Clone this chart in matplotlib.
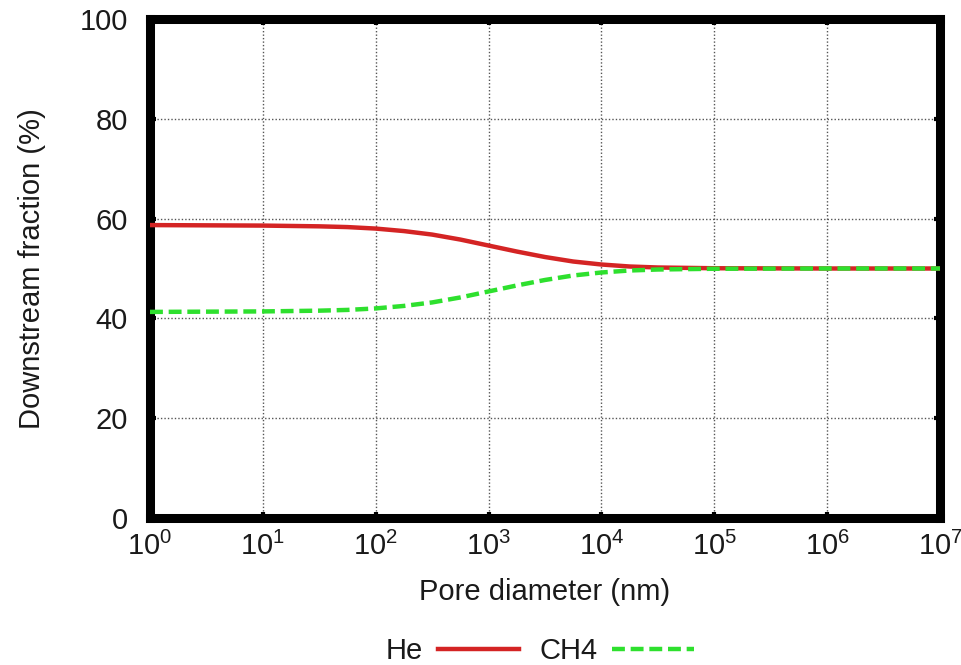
import matplotlib
matplotlib.use("Agg")
import matplotlib.pyplot as plt
import numpy as np

plt.rcParams['font.family'] = ['Liberation Sans', 'DejaVu Sans']
plt.rcParams['mathtext.fontset'] = 'custom'
plt.rcParams['mathtext.rm'] = 'Liberation Sans'
plt.rcParams['mathtext.it'] = 'Liberation Sans'

log_diam = [0, 1, 1.5, 1.75, 2, 2.25, 2.5, 2.75, 3, 3.25, 3.5, 3.75, 4, 4.25, 4.5, 5, 6, 7]
he_frac = [58.7, 58.6, 58.45, 58.3, 58.0, 57.5, 56.8, 55.8, 54.6, 53.4, 52.3, 51.4, 50.8, 50.4, 50.2, 50.05, 50.0, 50.0]
ch4_frac = [41.3, 41.4, 41.55, 41.7, 42.0, 42.5, 43.2, 44.2, 45.4, 46.6, 47.7, 48.6, 49.2, 49.6, 49.8, 49.95, 50.0, 50.0]
x_tick_exps = [0, 1, 2, 3, 4, 5, 6, 7]
y_ticks = [0, 20, 40, 60, 80, 100]

diam = [10.0 ** v for v in log_diam]

fig = plt.figure(figsize=(9.62, 6.65), dpi=100)
ax = fig.add_axes([150/962, 1-518/665, (940-150)/962, (518-19)/665])

tc = '#1a1a1a'
l1, = ax.plot(diam, he_frac, color='#d42424', lw=3.2, label='He', zorder=3)
l2, = ax.plot(diam, ch4_frac, color='#2ee02e', lw=3.2, dashes=(2.9, 1.3), label='CH4', zorder=4)

ax.set_xscale('log')
ax.set_xlim(1, 1e7)
ax.set_ylim(0, 100)
ax.set_xticks([10.0 ** e for e in x_tick_exps])
ax.set_xticklabels([r'$10^{%d}$' % e for e in x_tick_exps])
ax.xaxis.set_minor_locator(matplotlib.ticker.NullLocator())
ax.set_yticks(y_ticks)
ax.set_yticklabels([str(v) for v in y_ticks])

ax.grid(True, which='major', linestyle=(0, (1, 1.5)), color='#555555', linewidth=1.0)
for s in ax.spines.values():
    s.set_linewidth(6.5)
    s.set_color('black')
ax.tick_params(axis='both', which='major', direction='in', length=4, width=3,
               top=True, right=True, labelsize=21, colors='black', labelcolor=tc)
ax.tick_params(axis='y', pad=16)
ax.tick_params(axis='x', pad=10)

ax.set_xlabel('Pore diameter (nm)', fontsize=21, color=tc, labelpad=12)
ax.set_ylabel('Downstream fraction (%)', fontsize=21, color=tc, labelpad=24)

fig.legend(handles=[l1, l2], loc='center', bbox_to_anchor=(540/962, 1-651/665), ncol=2,
           frameon=False, markerfirst=False, fontsize=21, handlelength=2.8,
           columnspacing=0.7, handletextpad=0.5, labelcolor=tc)

fig.savefig('out.png', dpi=100)
